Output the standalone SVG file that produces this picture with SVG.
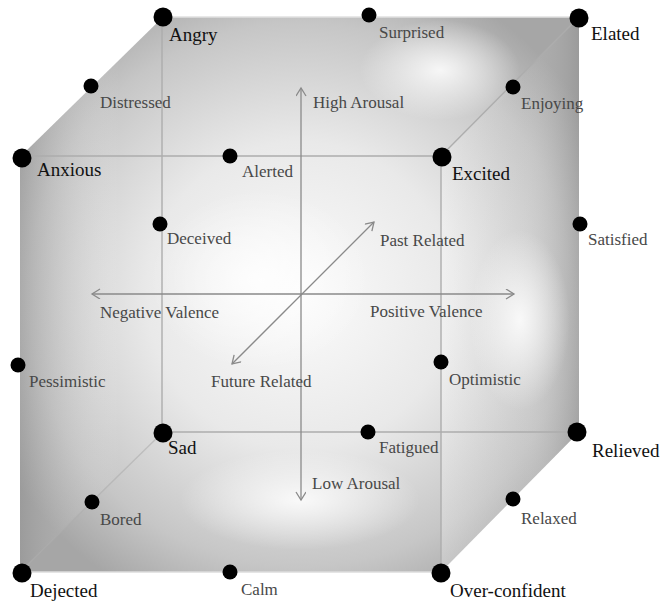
<svg xmlns="http://www.w3.org/2000/svg" width="660" height="602" viewBox="0 0 660 602">
<defs>
<radialGradient id="base" cx="300" cy="295" r="340" gradientUnits="userSpaceOnUse">
<stop offset="0" stop-color="#fbfbfb"/>
<stop offset="0.45" stop-color="#e9e9e9"/>
<stop offset="0.8" stop-color="#c6c6c6"/>
<stop offset="1" stop-color="#a6a6a6"/>
</radialGradient>
<linearGradient id="rightFace" x1="441" y1="0" x2="579" y2="0" gradientUnits="userSpaceOnUse">
<stop offset="0" stop-color="#ffffff" stop-opacity="0.25"/>
<stop offset="0.6" stop-color="#d8d8d8" stop-opacity="0.1"/>
<stop offset="1" stop-color="#8e8e8e" stop-opacity="0.45"/>
</linearGradient>
<linearGradient id="leftEdge" x1="20" y1="0" x2="120" y2="0" gradientUnits="userSpaceOnUse">
<stop offset="0" stop-color="#8e8e8e" stop-opacity="0.45"/>
<stop offset="1" stop-color="#ffffff" stop-opacity="0"/>
</linearGradient>
<radialGradient id="glow" cx="0.5" cy="0.5" r="0.5">
<stop offset="0" stop-color="#ffffff" stop-opacity="0.85"/>
<stop offset="1" stop-color="#ffffff" stop-opacity="0"/>
</radialGradient>
<marker id="arr" markerWidth="12" markerHeight="12" refX="9" refY="5" orient="auto-start-reverse" markerUnits="userSpaceOnUse">
<path d="M1,0 L9,5 L1,10" fill="none" stroke="#8a8a8a" stroke-width="1.3"/>
</marker>
</defs>
<style>
.lbl{font-family:"Liberation Serif","Times New Roman",serif;font-size:17px;fill:#484848}
.big{font-family:"Liberation Serif","Times New Roman",serif;font-size:19px;fill:#111}
.dot{fill:#000}
.edge{stroke:#adadad;stroke-width:1.4;fill:none}
.axis{stroke:#8a8a8a;stroke-width:1.3;fill:none}
</style>
<rect width="660" height="602" fill="#ffffff"/>
<g id="cube">
<polygon points="163,17 579,17 579,432 441,572 20,572 20,157" fill="url(#base)"/>
<polygon points="441,156 579,17 579,432 441,572" fill="url(#rightFace)"/>
<polygon points="20,157 163,17 163,432 20,572" fill="url(#leftEdge)"/>
<ellipse cx="440" cy="70" rx="80" ry="50" fill="url(#glow)"/>
<ellipse cx="260" cy="280" rx="110" ry="90" fill="url(#glow)"/>
<ellipse cx="520" cy="320" rx="50" ry="90" fill="url(#glow)"/>
<ellipse cx="300" cy="500" rx="120" ry="50" fill="url(#glow)"/>
<line class="edge" x1="162" y1="17" x2="162" y2="432"/>
<line class="edge" x1="162" y1="432" x2="579" y2="432"/>
<line class="edge" x1="20" y1="156" x2="441" y2="156"/>
<line class="edge" x1="441" y1="156" x2="441" y2="572"/>
<line class="edge" x1="441" y1="156" x2="579" y2="17"/>
<line class="edge" x1="163" y1="432" x2="20" y2="572" stroke-opacity="0.6"/>
<line x1="163" y1="17" x2="579" y2="17" stroke="#e0e0e0" stroke-width="1.5"/>
<line x1="20" y1="572" x2="441" y2="572" stroke="#dddddd" stroke-width="1.5"/>
</g>
<g id="connectors">
<line class="axis" x1="301" y1="500" x2="301" y2="88" marker-start="url(#arr)" marker-end="url(#arr)"/>
<line class="axis" x1="514" y1="294" x2="92" y2="294" marker-start="url(#arr)" marker-end="url(#arr)"/>
<line class="axis" x1="374" y1="222" x2="232" y2="364" marker-start="url(#arr)" marker-end="url(#arr)"/>
</g>
<g id="axis-labels">
<text class="lbl" x="313" y="108">High Arousal</text>
<text class="lbl" x="312" y="489">Low Arousal</text>
<text class="lbl" x="100" y="318">Negative Valence</text>
<text class="lbl" x="370" y="317">Positive Valence</text>
<text class="lbl" x="380" y="246">Past Related</text>
<text class="lbl" x="211" y="387">Future Related</text>
</g>
<g id="angry"><circle class="dot" cx="163" cy="17" r="9.5"/><text class="big" x="169" y="41">Angry</text></g>
<g id="surprised"><circle class="dot" cx="369" cy="15" r="7.5"/><text class="lbl" x="379" y="38">Surprised</text></g>
<g id="elated"><circle class="dot" cx="579" cy="18" r="9.5"/><text class="big" x="591" y="40">Elated</text></g>
<g id="distressed"><circle class="dot" cx="91" cy="86" r="7.5"/><text class="lbl" x="100" y="108">Distressed</text></g>
<g id="enjoying"><circle class="dot" cx="513" cy="87" r="7.5"/><text class="lbl" x="521" y="109">Enjoying</text></g>
<g id="anxious"><circle class="dot" cx="22" cy="158" r="9.5"/><text class="big" x="37" y="176">Anxious</text></g>
<g id="alerted"><circle class="dot" cx="230" cy="156" r="7.5"/><text class="lbl" x="242" y="177">Alerted</text></g>
<g id="excited"><circle class="dot" cx="442" cy="157" r="9.5"/><text class="big" x="452" y="180">Excited</text></g>
<g id="deceived"><circle class="dot" cx="160" cy="224" r="7.5"/><text class="lbl" x="167" y="244">Deceived</text></g>
<g id="satisfied"><circle class="dot" cx="580" cy="224" r="7.5"/><text class="lbl" x="588" y="245">Satisfied</text></g>
<g id="pessimistic"><circle class="dot" cx="18" cy="365" r="7.5"/><text class="lbl" x="29" y="387">Pessimistic</text></g>
<g id="optimistic"><circle class="dot" cx="441" cy="362" r="7.5"/><text class="lbl" x="449" y="385">Optimistic</text></g>
<g id="sad"><circle class="dot" cx="163" cy="433" r="9.5"/><text class="big" x="168" y="454">Sad</text></g>
<g id="fatigued"><circle class="dot" cx="368" cy="432" r="7.5"/><text class="lbl" x="379" y="453">Fatigued</text></g>
<g id="relieved"><circle class="dot" cx="577" cy="432" r="9.5"/><text class="big" x="592" y="457">Relieved</text></g>
<g id="bored"><circle class="dot" cx="92" cy="502" r="7.5"/><text class="lbl" x="100" y="525">Bored</text></g>
<g id="relaxed"><circle class="dot" cx="513" cy="499" r="7.5"/><text class="lbl" x="521" y="524">Relaxed</text></g>
<g id="dejected"><circle class="dot" cx="22" cy="573" r="9.5"/><text class="big" x="30" y="597">Dejected</text></g>
<g id="calm"><circle class="dot" cx="230" cy="572" r="7.5"/><text class="lbl" x="241" y="595">Calm</text></g>
<g id="over-confident"><circle class="dot" cx="441" cy="573" r="9.5"/><text class="big" x="450" y="597">Over-confident</text></g>
</svg>
